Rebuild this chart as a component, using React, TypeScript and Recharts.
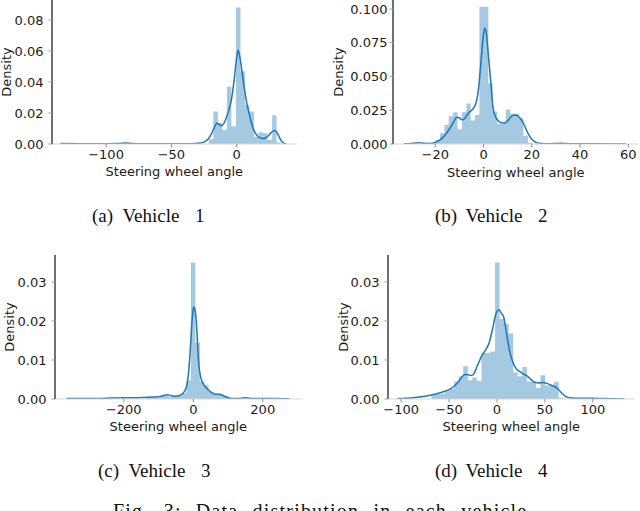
import React from 'react';
import { ComposedChart, Area, Line, XAxis, YAxis } from 'recharts';

// Vehicle 1: histogram bin edges / heights and KDE samples
const v1BinEdges = [-21.4, -17.9, -14.4, -11.0, -7.5, -4.1, -0.6, 2.9, 6.3, 9.8, 13.2, 16.7, 20.2, 23.6, 27.1, 30.5, 34.0];
const v1BinHeights = [0.003, 0.021, 0.0135, 0.009, 0.037, 0.0115, 0.088, 0.047, 0.025, 0.021, 0.0045, 0.0075, 0.007, 0.0027, 0.0185, 0.001];
const v1KdeX = [-135, -120, -100, -90, -85, -80, -70, -50, -35, -28, -25, -22, -20, -18, -16, -15, -14, -12, -10, -8, -6, -4, -2, 0, 1, 2, 4, 6, 8, 10, 12, 14, 16, 18, 20, 22, 24, 26, 28, 29, 30, 32, 34, 36, 38];
const v1KdeY = [0.0003, 0.0002, 0.0002, 0.0003, 0.0006, 0.0003, 0.0001, 0.0001, 0.0002, 0.0006, 0.0012, 0.003, 0.0055, 0.009, 0.0125, 0.0135, 0.013, 0.0118, 0.013, 0.017, 0.022, 0.029, 0.041, 0.056, 0.0605, 0.058, 0.047, 0.035, 0.025, 0.018, 0.0115, 0.0075, 0.005, 0.004, 0.0035, 0.004, 0.0052, 0.007, 0.0085, 0.0087, 0.0083, 0.0055, 0.0022, 0.0006, 0.0001];

// Vehicle 2
const v2BinEdges = [-21.7, -19.9, -18.0, -16.2, -14.4, -12.6, -10.8, -8.9, -7.1, -5.3, -3.5, -1.7, 0.2, 2.0, 3.8, 5.6, 7.4, 9.3, 11.1, 12.9, 14.7, 16.5, 18.4, 20.2];
const v2BinHeights = [0.001, 0.003, 0.008, 0.014, 0.0205, 0.0235, 0.011, 0.0235, 0.03, 0.0175, 0.0215, 0.1017, 0.1017, 0.045, 0.024, 0.015, 0.016, 0.0255, 0.0225, 0.0225, 0.019, 0.006, 0.001];
const v2KdeX = [-33, -30, -28, -27, -25, -22, -20, -18, -16, -14, -12, -11, -10, -9, -8, -7, -6, -5, -4, -3, -2, -1, 0, 0.5, 1, 2, 3, 4, 5, 6, 7, 8.5, 10, 11, 12, 13, 14, 15, 16, 17, 18, 19, 20, 21, 22, 24, 27, 30, 32, 34, 37, 45, 59];
const v2KdeY = [0.0002, 0.0004, 0.0008, 0.0009, 0.0005, 0.0004, 0.0012, 0.003, 0.0065, 0.0115, 0.0175, 0.0198, 0.0195, 0.018, 0.0185, 0.021, 0.0235, 0.0248, 0.027, 0.031, 0.042, 0.062, 0.081, 0.0857, 0.084, 0.066, 0.046, 0.026, 0.02, 0.0175, 0.016, 0.0155, 0.017, 0.0195, 0.021, 0.0215, 0.021, 0.0195, 0.017, 0.0135, 0.0095, 0.006, 0.0035, 0.002, 0.001, 0.0004, 0.0002, 0.0003, 0.0006, 0.0003, 0.0001, 0.0001, 0.0];

// Vehicle 3
const v3BinEdges = [-136, -123, -110, -97, -84, -71, -58, -46, -33, -20, -7, 6, 19, 32, 44, 57, 70, 83, 96, 109];
const v3BinHeights = [0.0003, 0.0004, 0.0003, 0.0008, 0.0009, 0.0006, 0.0005, 0.0008, 0.0015, 0.0048, 0.035, 0.0145, 0.0045, 0.0035, 0.0018, 0.0013, 0.0012, 0.0007, 0.0003];
const v3KdeX = [-365, -300, -250, -200, -170, -140, -120, -100, -85, -75, -65, -50, -40, -30, -20, -15, -11, -7, -4, 0, 2, 5, 9, 12, 15, 20, 25, 30, 40, 50, 60, 70, 78, 85, 95, 105, 120, 140, 150, 160, 190, 230, 278];
const v3KdeY = [0.0001, 0.0001, 0.0002, 0.0003, 0.0003, 0.0004, 0.0005, 0.0006, 0.0009, 0.0011, 0.0009, 0.0007, 0.0009, 0.0014, 0.003, 0.0055, 0.0095, 0.015, 0.0195, 0.0232, 0.0236, 0.0228, 0.0195, 0.0145, 0.0098, 0.0062, 0.0045, 0.0037, 0.0026, 0.0018, 0.0013, 0.0012, 0.0012, 0.0009, 0.0005, 0.0002, 0.0001, 0.0002, 0.0003, 0.0002, 0.0001, 0.0001, 0.0];

// Vehicle 4
const v4BinEdges = [-68.4, -63.6, -58.9, -54.1, -49.4, -44.7, -39.9, -35.2, -30.4, -25.7, -21.0, -16.2, -11.5, -6.7, -2.0, 2.7, 7.5, 12.2, 17.0, 21.7, 26.4, 31.2, 35.9, 40.7, 45.4, 50.1, 54.9, 59.6, 64.4, 69.1];
const v4BinHeights = [0.0012, 0.0016, 0.0014, 0.0022, 0.0026, 0.0045, 0.0058, 0.0084, 0.0048, 0.0055, 0.0046, 0.0118, 0.0118, 0.0122, 0.035, 0.0205, 0.0193, 0.0168, 0.0068, 0.0058, 0.0082, 0.0045, 0.0045, 0.0028, 0.0061, 0.0035, 0.0035, 0.0044, 0.0003];
const v4KdeX = [-104, -95, -85, -75, -65, -58, -50, -45, -40, -36, -33, -30, -27, -24, -20, -16, -12, -8, -5, -2, 0, 2, 4, 7, 10, 13, 16, 20, 24, 28, 32, 36, 40, 44, 48, 52, 56, 60, 64, 68, 72, 76, 82, 90, 100, 110, 133];
const v4KdeY = [0.0001, 0.0002, 0.0004, 0.0007, 0.0012, 0.0017, 0.0024, 0.0032, 0.0045, 0.0058, 0.0063, 0.0062, 0.006, 0.0065, 0.0088, 0.011, 0.0125, 0.0145, 0.0175, 0.021, 0.0225, 0.0229, 0.0222, 0.021, 0.0168, 0.0125, 0.0098, 0.0078, 0.007, 0.0064, 0.0058, 0.0049, 0.0042, 0.0041, 0.0042, 0.004, 0.0036, 0.0032, 0.0025, 0.0014, 0.0006, 0.0003, 0.0002, 0.0002, 0.0002, 0.0001, 0.0];

// tick labels
const v1XTicks = [-100, -50, 0];
const v1YTicks = [0, 0.02, 0.04, 0.06, 0.08];
const v2XTicks = [-20, 0, 20, 40, 60];
const v2YTicks = [0, 0.025, 0.05, 0.075, 0.1];
const v3XTicks = [-200, 0, 200];
const v3YTicks = [0, 0.01, 0.02, 0.03];
const v4XTicks = [-100, -50, 0, 50, 100];
const v4YTicks = [0, 0.01, 0.02, 0.03];

const BLUE = '#1f77b4';
const AXIS_FONT = { fontFamily: 'DejaVu Sans, sans-serif', fontSize: 13, fill: '#1a1a1a' };
const SERIF = "'Liberation Serif', 'Times New Roman', serif";
const PAD_LEFT = 70; // room left of the plot area for tick labels and the y label

type Row = { x: number; hist: number | null; kde: number | null };

function buildRows(edges: number[], heights: number[], kdeX: number[], kdeY: number[]): Row[] {
  const rows = new Map<number, Row>();
  const get = (x: number) => {
    let r = rows.get(x);
    if (!r) {
      r = { x, hist: null, kde: null };
      rows.set(x, r);
    }
    return r;
  };
  edges.forEach((e, i) => {
    get(e).hist = i < heights.length ? heights[i] : 0;
  });
  kdeX.forEach((x, i) => {
    get(x).kde = kdeY[i];
  });
  return Array.from(rows.values()).sort((a, b) => a.x - b.x);
}

const minus = (v: number) => String(v).replace('-', '\u2212');

interface PanelProps {
  rows: Row[];
  x: number;
  y: number;
  w: number;
  h: number;
  xDomain: [number, number];
  yDomain: [number, number];
  xTicks: number[];
  yTicks: number[];
  decimals: number;
  yLabelX: number;
  yTickMargin: number;
  rightSpine: string;
  topSpine?: string;
}

const Panel: React.FC<PanelProps> = ({
  rows, x, y, w, h, xDomain, yDomain, xTicks, yTicks, decimals, yLabelX, yTickMargin, rightSpine, topSpine,
}) => (
  <div style={{ position: 'absolute', left: x - PAD_LEFT, top: y - 10 }}>
    <ComposedChart width={w + PAD_LEFT + 10} height={h + 60} data={rows} margin={{ top: 10, right: 10, bottom: 0, left: 0 }}>
      <XAxis
        dataKey="x"
        type="number"
        domain={xDomain}
        allowDataOverflow
        ticks={xTicks}
        interval={0}
        tickFormatter={minus}
        height={50}
        tick={AXIS_FONT}
        tickSize={3.5}
        tickMargin={2.5}
        tickLine={{ stroke: '#8c8c8c' }}
        axisLine={{ stroke: '#d6d6d6' }}
        label={{ value: 'Steering wheel angle', position: 'insideBottom', offset: 17.5, style: AXIS_FONT }}
      />
      {topSpine && (
        <XAxis
          xAxisId="top"
          orientation="top"
          dataKey="x"
          type="number"
          domain={xDomain}
          allowDataOverflow
          height={0}
          tick={false}
          tickLine={false}
          axisLine={{ stroke: topSpine, strokeWidth: 1.4 }}
        />
      )}
      <YAxis
        type="number"
        domain={yDomain}
        allowDataOverflow
        ticks={yTicks}
        interval={0}
        tickFormatter={(v: number) => v.toFixed(decimals)}
        width={PAD_LEFT}
        tick={AXIS_FONT}
        tickSize={3.5}
        tickMargin={yTickMargin}
        tickLine={{ stroke: '#a0a0a0' }}
        axisLine={{ stroke: '#111', strokeWidth: 1.2 }}
        label={{
          value: 'Density',
          angle: -90,
          position: 'insideLeft',
          offset: yLabelX - (x - PAD_LEFT),
          style: { ...AXIS_FONT, textAnchor: 'middle' },
        }}
      />
      <YAxis
        yAxisId="right"
        orientation="right"
        type="number"
        domain={yDomain}
        width={0}
        tick={false}
        tickLine={false}
        axisLine={{ stroke: rightSpine, strokeWidth: 1.3 }}
      />
      <Area
        dataKey="hist"
        type="stepAfter"
        stroke="none"
        fill={BLUE}
        fillOpacity={0.4}
        connectNulls
        dot={false}
        activeDot={false}
        isAnimationActive={false}
      />
      <Line
        dataKey="kde"
        type="monotone"
        stroke={BLUE}
        strokeWidth={1.5}
        connectNulls
        dot={false}
        activeDot={false}
        isAnimationActive={false}
      />
    </ComposedChart>
  </div>
);

const Caption: React.FC<{ x: number; y: number; tag: string; num: string }> = ({ x, y, tag, num }) => (
  <text fontFamily={SERIF} fontSize={19} fill="#111">
    <tspan x={x} y={y}>{tag}</tspan>
    <tspan x={x + 30.5}>Vehicle</tspan>
    <tspan x={x + 103}>{num}</tspan>
  </text>
);

export default function App() {
  const rows1 = buildRows(v1BinEdges, v1BinHeights, v1KdeX, v1KdeY);
  const rows2 = buildRows(v2BinEdges, v2BinHeights, v2KdeX, v2KdeY);
  const rows3 = buildRows(v3BinEdges, v3BinHeights, v3KdeX, v3KdeY);
  const rows4 = buildRows(v4BinEdges, v4BinHeights, v4KdeX, v4KdeY);

  return (
    <div style={{ position: 'absolute', left: 0, top: 0, width: 640, height: 511, overflow: 'hidden', background: '#fff' }}>
      <Panel rows={rows1} x={52} y={0} w={244.7} h={144} xDomain={[-141.4, 45.9]} yDomain={[0, 0.0929]}
        xTicks={v1XTicks} yTicks={v1YTicks} decimals={2} yLabelX={6.7} yTickMargin={5} rightSpine="#111" />
      <Panel rows={rows2} x={392.7} y={0} w={245.5} h={144} xDomain={[-37.5, 64.2]} yDomain={[0, 0.1067]}
        xTicks={v2XTicks} yTicks={v2YTicks} decimals={3} yLabelX={338.3} yTickMargin={2} rightSpine="#111" />
      <Panel rows={rows3} x={55} y={254.7} w={246.7} h={144} xDomain={[-398, 312]} yDomain={[0, 0.0369]}
        xTicks={v3XTicks} yTicks={v3YTicks} decimals={2} yLabelX={9.3} yTickMargin={5} rightSpine="#d4d4d4" topSpine="#555" />
      <Panel rows={rows4} x={387.7} y={254.7} w={246.6} h={144} xDomain={[-113.7, 143.6]} yDomain={[0, 0.0369]}
        xTicks={v4XTicks} yTicks={v4YTicks} decimals={2} yLabelX={343.3} yTickMargin={5} rightSpine="#d4d4d4" topSpine="#555" />
      <svg width={640} height={511} style={{ position: 'absolute', left: 0, top: 0, pointerEvents: 'none' }}>
        <Caption x={92} y={222.3} tag="(a)" num="1" />
        <Caption x={435} y={222.3} tag="(b)" num="2" />
        <Caption x={98} y={476.5} tag="(c)" num="3" />
        <Caption x={435} y={476.5} tag="(d)" num="4" />
        <text x={113} y={517.5} fontFamily={SERIF} fontSize={20} fill="#111" letterSpacing={1.2} wordSpacing={8}>
          Fig. 3: Data distribution in each vehicle.
        </text>
      </svg>
    </div>
  );
}
